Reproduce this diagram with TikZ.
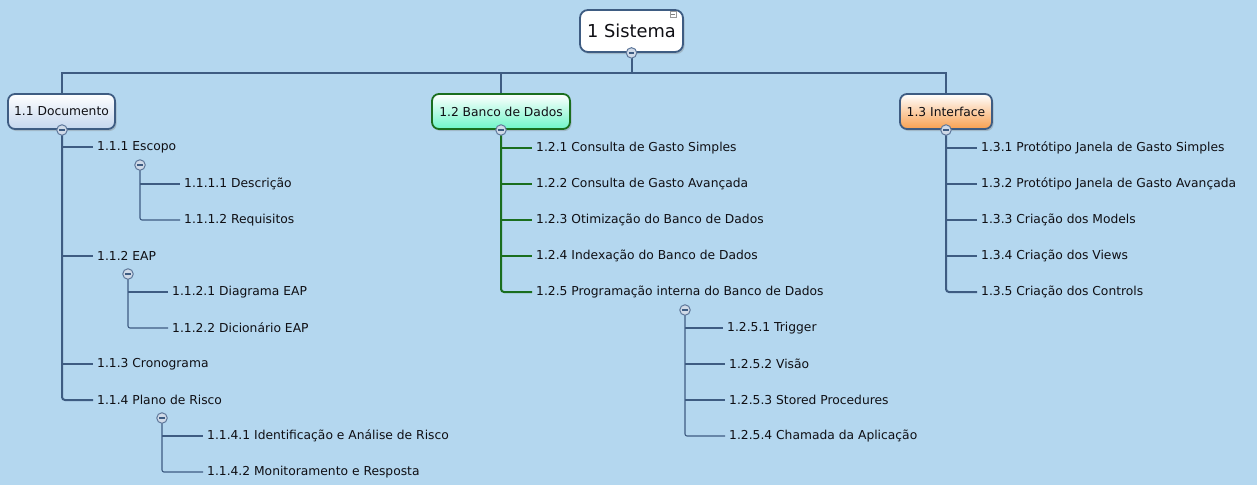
\documentclass[tikz,border=0pt]{standalone}
\usepackage{fontspec}
\setmainfont{DejaVu Sans}
\usetikzlibrary{shadows}
\definecolor{bg}{RGB}{180,215,239}
\definecolor{linec}{RGB}{62,92,130}
\definecolor{greenc}{RGB}{26,110,30}
\definecolor{txt}{RGB}{15,15,20}
\definecolor{knobfill}{RGB}{208,218,232}
\definecolor{knobline}{RGB}{95,120,155}
\definecolor{mint}{RGB}{110,245,200}
\definecolor{orangec}{RGB}{248,160,80}
\definecolor{docc}{RGB}{196,214,238}
\tikzset{
  x=1pt, y=-1pt,
  item/.style={anchor=west, inner xsep=4pt, inner ysep=2pt, yshift=-1pt, text=txt, font=\fontsize{12.3}{14}\selectfont},
  lvlbox/.style={rounded corners=7pt, line width=1.8pt, minimum height=35pt, inner xsep=5pt, text=txt,
     font=\fontsize{12.3}{14}\selectfont, drop shadow={opacity=0.35, shadow xshift=1.5pt, shadow yshift=-2pt}},
  bus/.style={draw=linec, line width=2pt},
  gbus/.style={draw=greenc, line width=2pt},
  sub/.style={draw=linec, line width=1.1pt},
  knob/.style={circle, draw=knobline, line width=1pt, fill=knobfill, minimum size=10.5pt, inner sep=0pt,
     path picture={\draw[linec, line width=1.5pt] ([xshift=-2.6pt]path picture bounding box.center) -- ([xshift=2.6pt]path picture bounding box.center);}},
}
\begin{document}
\begin{tikzpicture}
\fill[bg] (0,0) rectangle (1257,485);
\useasboundingbox (0,0) rectangle (1257,485);

% root
\node[rounded corners=8pt, draw=linec, line width=1.8pt, fill=white, minimum width=103pt, minimum height=42pt,
  text=txt, font=\fontsize{17.8}{19}\selectfont,
  drop shadow={opacity=0.35, shadow xshift=1.5pt, shadow yshift=-2pt}] (root) at (631.5,31) {1 Sistema};
\node[draw=gray!80, fill=white, line width=0.5pt, minimum size=6pt, inner sep=0pt,
  path picture={\draw[gray, line width=0.5pt] ([xshift=-1.8pt]path picture bounding box.center) -- ([xshift=1.8pt]path picture bounding box.center);}]
  (rooticon) at (673,14) {};

% level 1 boxes
\node[lvlbox, draw=linec, top color=white, bottom color=docc, minimum width=107pt] (d) at (61.5,111.5) {1.1 Documento};
\node[lvlbox, draw=greenc, top color=white, bottom color=mint, minimum width=138pt] (b) at (501,111.5) {1.2 Banco de Dados};
\node[lvlbox, draw=linec, top color=white, bottom color=orangec, minimum width=92pt] (i) at (946,111.5) {1.3 Interface};

\coordinate (busc) at (631.5,73);
\draw[bus] (root.south) -- (busc);
\draw[bus] (d.north) |- (busc) -| (i.north);
\draw[bus] (b.north) -- (b.north |- busc);

% 1.1 children
\node[item] (d1) at (93,146) {1.1.1 Escopo};
\node[item] (d2) at (93,255) {1.1.2 EAP};
\node[item] (d3) at (93,363) {1.1.3 Cronograma};
\node[item] (d4) at (93,399) {1.1.4 Plano de Risco};

\node[item] (d11) at (180,183) {1.1.1.1 Descrição};
\node[item] (d12) at (180,219) {1.1.1.2 Requisitos};
\node[item] (d21) at (168,291) {1.1.2.1 Diagrama EAP};
\node[item] (d22) at (168,327) {1.1.2.2 Dicionário EAP};
\node[item] (d41) at (203,435) {1.1.4.1 Identificação e Análise de Risco};
\node[item] (d42) at (203,471) {1.1.4.2 Monitoramento e Resposta};

% 1.2 children
\node[item] (b1) at (532,147) {1.2.1 Consulta de Gasto Simples};
\node[item] (b2) at (532,183) {1.2.2 Consulta de Gasto Avançada};
\node[item] (b3) at (532,219) {1.2.3 Otimização do Banco de Dados};
\node[item] (b4) at (532,255) {1.2.4 Indexação do Banco de Dados};
\node[item] (b5) at (532,291) {1.2.5 Programação interna do Banco de Dados};

\node[item] (b51) at (723,327) {1.2.5.1 Trigger};
\node[item] (b52) at (725,363) {1.2.5.2 Visão};
\node[item] (b53) at (725,399) {1.2.5.3 Stored Procedures};
\node[item] (b54) at (725,435) {1.2.5.4 Chamada da Aplicação};

% 1.3 children
\node[item] (i1) at (977,147) {1.3.1 Protótipo Janela de Gasto Simples};
\node[item] (i2) at (977,183) {1.3.2 Protótipo Janela de Gasto Avançada};
\node[item] (i3) at (977,219) {1.3.3 Criação dos Models};
\node[item] (i4) at (977,255) {1.3.4 Criação dos Views};
\node[item] (i5) at (977,291) {1.3.5 Criação dos Controls};

% knobs (positions)
\coordinate (dk) at (62,130);
\coordinate (bk) at (501,130);
\coordinate (ik) at (946,130);
\coordinate (d1k) at (140,165);
\coordinate (d2k) at (128,274);
\coordinate (d4k) at (162,418);
\coordinate (b5k) at (685,310);

% connectors 1.1
\draw[bus, rounded corners=3pt] (dk) |- (d4.west);
\foreach \n in {d1,d2,d3} \draw[bus] (dk |- \n.west) -- (\n.west);
\draw[sub, rounded corners=2pt] (d1k) |- (d12.west);
\draw[sub] (d1k |- d11.west) -- (d11.west);
\draw[sub, rounded corners=2pt] (d2k) |- (d22.west);
\draw[sub] (d2k |- d21.west) -- (d21.west);
\draw[sub, rounded corners=2pt] (d4k) |- (d42.west);
\draw[sub] (d4k |- d41.west) -- (d41.west);

% connectors 1.2
\draw[gbus, rounded corners=3pt] (bk) |- (b5.west);
\foreach \n in {b1,b2,b3,b4} \draw[gbus] (bk |- \n.west) -- (\n.west);
\draw[sub, rounded corners=2pt] (b5k) |- (b54.west);
\foreach \n in {b51,b52,b53} \draw[sub] (b5k |- \n.west) -- (\n.west);

% connectors 1.3
\draw[bus, rounded corners=3pt] (ik) |- (i5.west);
\foreach \n in {i1,i2,i3,i4} \draw[bus] (ik |- \n.west) -- (\n.west);

% knob nodes
\node[knob] (dkn) at (dk) {};
\node[knob] (bkn) at (bk) {};
\node[knob] (ikn) at (ik) {};
\node[knob] (rkn) at (root.south) {};
\node[knob] (d1kn) at (d1k) {};
\node[knob] (d2kn) at (d2k) {};
\node[knob] (d4kn) at (d4k) {};
\node[knob] (b5kn) at (b5k) {};
\end{tikzpicture}
\end{document}
